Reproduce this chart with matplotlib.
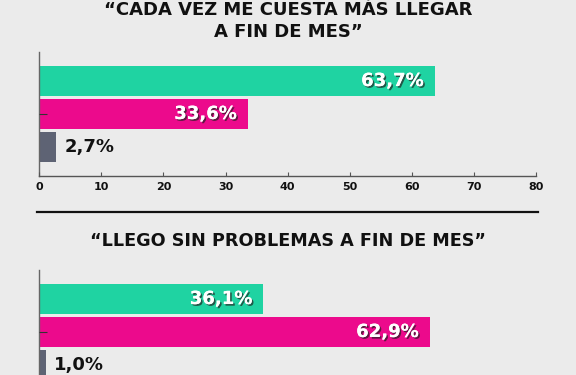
import matplotlib
matplotlib.use("Agg")
import matplotlib.pyplot as plt
import matplotlib.patheffects as pe

# data
titles = ["\u201cCADA VEZ ME CUESTA M\u00c1S LLEGAR\nA FIN DE MES\u201d",
          "\u201cLLEGO SIN PROBLEMAS A FIN DE MES\u201d"]
answers = ["S\u00ed", "No", "NS/NC"]
values_1 = [63.7, 33.6, 2.7]
values_2 = [36.1, 62.9, 1.0]
labels_1 = ["63,7%", "33,6%", "2,7%"]
labels_2 = ["36,1%", "62,9%", "1,0%"]
xticks = [0, 10, 20, 30, 40, 50, 60, 70, 80]

colors = ["#1fd3a2", "#ec0a8c", "#5e6374"]
bg = "#ebebeb"
font = "DejaVu Sans"

fig = plt.figure(figsize=(5.76, 3.75), dpi=100, facecolor=bg)
W, H = 576.0, 375.0

def draw(ax, vals, labs, show_x=True):
    ax.set_facecolor("none")
    ax.set_axisbelow(False)
    pos = list(range(len(vals)))
    ax.barh(pos, vals, height=0.9, color=colors, zorder=2)
    ax.set_xlim(0, 80)
    ax.set_ylim(2.88, -0.88)
    for i, (v, s) in enumerate(zip(vals, labs)):
        if v > 10:
            ax.text(v - 1.8, i, s, ha="right", va="center", color="white",
                    fontsize=13, fontweight="bold", family=font, zorder=3,
                    path_effects=[pe.withSimplePatchShadow(offset=(1.2, -1.2),
                                  shadow_rgbFace="#222222", alpha=0.7),
                                  pe.Normal()])
        else:
            ax.text(v + 1.3, i, s, ha="left", va="center", color="#111111",
                    fontsize=13, fontweight="bold", family=font, zorder=3)
    for side in ["top", "right"]:
        ax.spines[side].set_visible(False)
    ax.spines["left"].set_color("#666666")
    ax.spines["bottom"].set_color("#555555")
    ax.spines["left"].set_linewidth(1.0)
    ax.spines["bottom"].set_linewidth(1.0)
    ax.set_yticks([1])
    ax.set_yticklabels([""])
    ax.tick_params(axis="y", direction="in", length=6, color="#333333", width=0.8)
    ax.set_xticks(xticks)
    ax.set_xticklabels([str(t) for t in xticks], fontsize=8,
                       fontweight="bold", family=font, color="#111111")
    ax.tick_params(axis="x", direction="in", length=3, color="#555555", pad=4,
                   labelbottom=show_x)

left = 39.3 / W
width = (536 - 39.3) / W
ax_h = 124 / H

ax1 = fig.add_axes([left, 1 - 176 / H, width, ax_h])
draw(ax1, values_1, labels_1)

ax2 = fig.add_axes([left, 1 - 394 / H, width, ax_h])
draw(ax2, values_2, labels_2, show_x=False)

fig.text(288 / W, 1 - 21 / H, titles[0], ha="center", va="center",
         fontsize=13, fontweight="bold", family=font, color="#111111",
         linespacing=1.3)
fig.text(288 / W, 1 - 240.5 / H, titles[1], ha="center", va="center",
         fontsize=12.7, fontweight="bold", family=font, color="#111111")

fig.add_artist(plt.Line2D([37 / W, 538 / W], [1 - 212 / H, 1 - 212 / H],
                          color="#111111", linewidth=1.6))

fig.savefig("out.png", dpi=100, facecolor=bg)
